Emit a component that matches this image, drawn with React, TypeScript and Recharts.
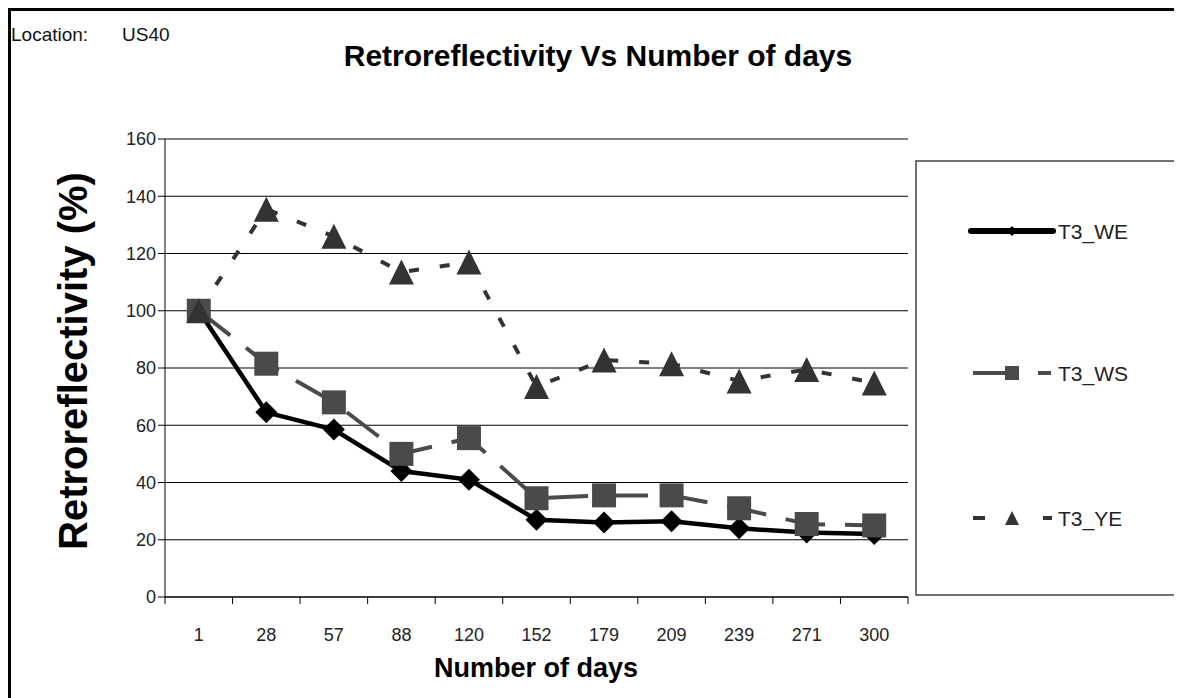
import React from 'react';
import { LineChart, Line, XAxis, YAxis, CartesianGrid } from 'recharts';

const days = ['1', '28', '57', '88', '120', '152', '179', '209', '239', '271', '300'];
const t3WE = [100, 64.5, 58.5, 44, 41, 27, 26, 26.5, 24, 22.5, 22];
const t3WS = [100, 81.5, 68, 50, 55.5, 34.5, 35.5, 35.5, 31, 25.5, 25];
const t3YE = [100, 135.5, 126, 113.5, 117, 73.5, 82.8, 81.5, 75.5, 79.5, 74.8];
const yTicks = [0, 20, 40, 60, 80, 100, 120, 140, 160];

const data = days.map((day, i) => ({ day, T3_WE: t3WE[i], T3_WS: t3WS[i], T3_YE: t3YE[i] }));

const FONT = '"Liberation Sans", Arial, sans-serif';
const CHART_W = 1174;
const CHART_H = 690;
const PLOT_LEFT = 157;
const PLOT_RIGHT = 900;
const HALF_BAND = (PLOT_RIGHT - PLOT_LEFT) / days.length / 2;

type Shape = 'diamond' | 'square' | 'triangle';

const series: { key: string; color: string; width: number; dash?: string; shape: Shape; legend: [number, number][] }[] = [
  { key: 'T3_WE', color: '#000000', width: 4.5, shape: 'diamond', legend: [[56, 138]] },
  { key: 'T3_WS', color: '#4a4a4a', width: 4, dash: '40 20', shape: 'square', legend: [[58, 103], [123, 136]] },
  { key: 'T3_YE', color: '#333333', width: 4, dash: '10 21', shape: 'triangle', legend: [[58, 70], [128, 137]] },
];

const Marker = ({ cx, cy, shape, color, size }: { cx: number; cy: number; shape: Shape; color: string; size: number }) => {
  const h = size / 2;
  if (shape === 'diamond') {
    return <polygon points={`${cx},${cy - h} ${cx + h},${cy} ${cx},${cy + h} ${cx - h},${cy}`} fill={color} />;
  }
  if (shape === 'square') {
    return <rect x={cx - h} y={cy - h} width={size} height={size} fill={color} />;
  }
  return <polygon points={`${cx},${cy - h} ${cx + h},${cy + h} ${cx - h},${cy + h}`} fill={color} />;
};

const markerSize: Record<Shape, number> = { diamond: 22, square: 24, triangle: 25 };

// category labels in the middle of each band, tick marks on the band edges
const DayTick = (props: any) => {
  const { x, y, payload, index } = props;
  const last = index === days.length - 1;
  return (
    <g>
      <line x1={x - HALF_BAND} y1={y - 8} x2={x - HALF_BAND} y2={y - 1} stroke="#000" />
      {last && <line x1={x + HALF_BAND} y1={y - 8} x2={x + HALF_BAND} y2={y - 1} stroke="#000" />}
      <text x={x} y={y + 36} textAnchor="middle" fontSize={18} fill="#222" fontFamily={FONT}>
        {payload.value}
      </text>
    </g>
  );
};

const LegendBox = () => {
  const rows = [71, 213, 358];
  return (
    <svg width={264} height={436} style={{ position: 'absolute', left: 907, top: 152 }}>
      <rect x={1} y={1} width={262} height={434} fill="#fff" stroke="#444" strokeWidth={1.5} />
      {series.map((s, i) => {
        const y = rows[i];
        return (
          <g key={s.key}>
            {s.legend.map(([a, b]) => (
              <line
                key={a}
                x1={a}
                y1={y}
                x2={b}
                y2={y}
                stroke={s.color}
                strokeWidth={i === 0 ? 6 : s.width}
                strokeLinecap={i === 0 ? 'round' : 'butt'}
              />
            ))}
            <Marker cx={97} cy={y} shape={s.shape} color={s.color} size={s.shape === 'diamond' ? 10 : 14} />
            <text x={143} y={y + 8} fontSize={21} fill="#222" fontFamily={FONT}>
              {s.key}
            </text>
          </g>
        );
      })}
    </svg>
  );
};

export default function App() {
  return (
    <div style={{ position: 'relative', width: CHART_W, height: CHART_H, background: '#fff', fontFamily: FONT }}>
      <div
        style={{
          position: 'absolute',
          left: 0,
          top: 0,
          width: CHART_W,
          height: CHART_H,
          borderTop: '3px solid #000',
          borderLeft: '3px solid #000',
          boxSizing: 'border-box',
        }}
      />
      <div style={{ position: 'absolute', left: 3, top: 16, fontSize: 19, color: '#111' }}>Location:</div>
      <div style={{ position: 'absolute', left: 114, top: 16, fontSize: 19, color: '#111' }}>US40</div>
      <div
        style={{
          position: 'absolute',
          left: 0,
          width: 1180,
          top: 31,
          textAlign: 'center',
          fontSize: 30,
          fontWeight: 'bold',
          color: '#000',
        }}
      >
        Retroreflectivity Vs Number of days
      </div>
      <div
        style={{
          position: 'absolute',
          left: 65,
          top: 353,
          transform: 'translate(-50%, -50%) rotate(-90deg)',
          whiteSpace: 'nowrap',
          fontSize: 40,
          fontWeight: 'bold',
          color: '#000',
        }}
      >
        Retroreflectivity (%)
      </div>
      <div
        style={{
          position: 'absolute',
          left: 528,
          top: 660,
          transform: 'translate(-50%, -50%)',
          whiteSpace: 'nowrap',
          fontSize: 27,
          fontWeight: 'bold',
          color: '#000',
        }}
      >
        Number of days
      </div>
      <div style={{ position: 'absolute', left: 0, top: 0 }}>
        <LineChart width={CHART_W} height={CHART_H} data={data} margin={{ top: 131, right: CHART_W - PLOT_RIGHT, bottom: 61, left: 0 }}>
          <CartesianGrid vertical={false} stroke="#000" strokeWidth={1} />
          <XAxis
            dataKey="day"
            scale="band"
            height={40}
            axisLine={{ stroke: '#000' }}
            tickLine={false}
            tick={<DayTick />}
            interval={0}
          />
          <YAxis
            width={PLOT_LEFT}
            domain={[0, 160]}
            ticks={yTicks}
            axisLine={{ stroke: '#000' }}
            tickLine={{ stroke: '#000' }}
            tickSize={7}
            tick={{ fontSize: 18, fill: '#222', fontFamily: FONT }}
          />
          {series.map((s) => (
            <Line
              key={s.key}
              dataKey={s.key}
              stroke={s.color}
              strokeWidth={s.width}
              strokeDasharray={s.dash}
              isAnimationActive={false}
              dot={(p: any) => (
                <Marker
                  key={`${s.key}-${p.index}`}
                  cx={p.cx}
                  cy={p.cy}
                  shape={s.shape}
                  color={s.color}
                  size={markerSize[s.shape]}
                />
              )}
              activeDot={false}
            />
          ))}
        </LineChart>
      </div>
      <LegendBox />
    </div>
  );
}
